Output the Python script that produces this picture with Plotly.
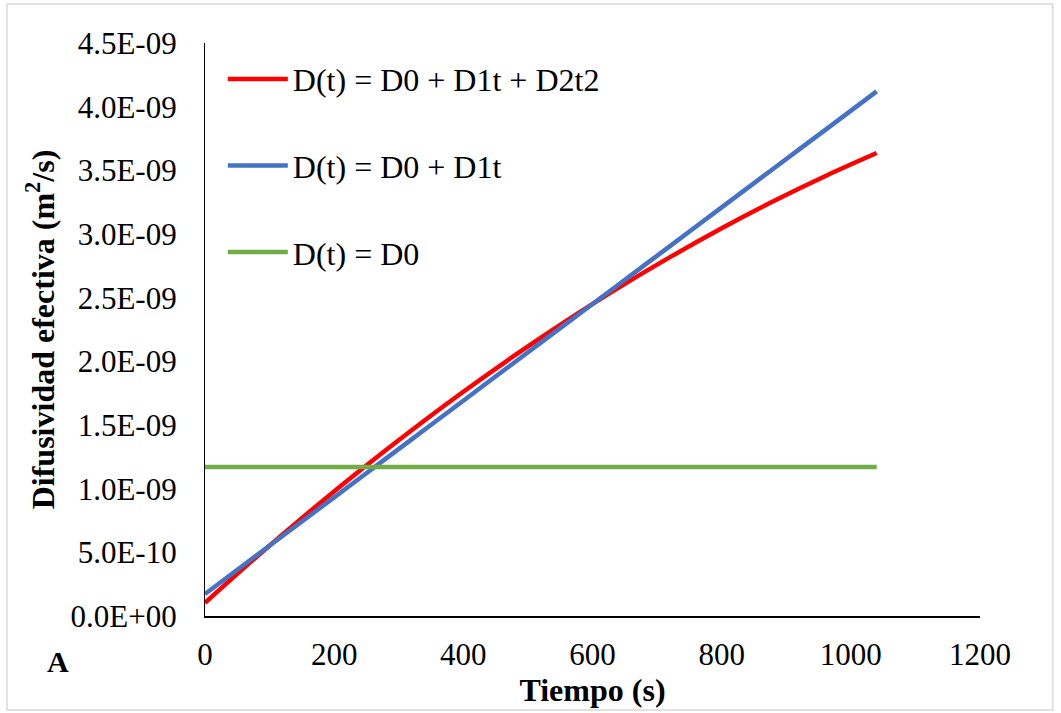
import plotly.graph_objects as go

# Data
time_s = [0, 80, 160, 240, 320, 400, 480, 560, 640, 720, 800, 880, 960, 1040]
d_quadratic = [1.03e-10, 4.65e-10, 8.11e-10, 1.143e-09, 1.459e-09, 1.761e-09, 2.048e-09,
               2.320e-09, 2.577e-09, 2.818e-09, 3.045e-09, 3.257e-09, 3.454e-09, 3.636e-09]
d_linear = [1.73e-10, 4.77e-10, 7.80e-10, 1.084e-09, 1.387e-09, 1.691e-09, 1.995e-09,
            2.298e-09, 2.602e-09, 2.905e-09, 3.209e-09, 3.513e-09, 3.816e-09, 4.120e-09]
d_const = [1.17e-09] * len(time_s)

series_names = ["D(t) = D0 + D1t + D2t2", "D(t) = D0 + D1t", "D(t) = D0"]
series_colors = ["#FF0000", "#4472C4", "#70AD47"]

y_tickvals = [0, 5e-10, 1e-09, 1.5e-09, 2e-09, 2.5e-09, 3e-09, 3.5e-09, 4e-09, 4.5e-09]
y_ticktext = ["0.0E+00", "5.0E-10", "1.0E-09", "1.5E-09", "2.0E-09", "2.5E-09",
              "3.0E-09", "3.5E-09", "4.0E-09", "4.5E-09"]
x_tickvals = [0, 200, 400, 600, 800, 1000, 1200]

FONT = "Liberation Serif"

fig = go.Figure()
for i, (ys, name, col) in enumerate(zip([d_quadratic, d_linear, d_const], series_names, series_colors)):
    fig.add_trace(go.Scatter(x=time_s, y=ys, mode="lines", name=name,
                             line=dict(color=col, width=4.5, shape="spline"),
                             legendgroup=f"g{i}"))

fig.update_layout(
    width=1061, height=713,
    margin=dict(l=205, r=81, t=43, b=97),
    paper_bgcolor="white", plot_bgcolor="white",
    font=dict(family=FONT, size=31, color="black"),
    showlegend=True,
    legend=dict(x=0.023, y=0.985, xanchor="left", yanchor="top",
                bgcolor="rgba(0,0,0,0)", font=dict(family=FONT, size=32),
                traceorder="grouped", tracegroupgap=42, itemwidth=60),
    xaxis=dict(range=[0, 1200], tickvals=x_tickvals, showgrid=False, zeroline=False,
               showline=True, linecolor="black", linewidth=1.5, ticks="",
               ticklabelstandoff=10,
               tickfont=dict(family=FONT, size=31),
               title=dict(text="<b>Tiempo (s)</b>", font=dict(family=FONT, size=32), standoff=4)),
    yaxis=dict(range=[0, 4.5e-09], tickvals=y_tickvals, ticktext=y_ticktext, showgrid=False,
               zeroline=False, showline=True, linecolor="black", linewidth=1.2, ticks="",
               ticklabelstandoff=21,
               tickfont=dict(family=FONT, size=31),
               title=dict(text="<b>Difusividad efectiva (m<sup>2</sup>/s)</b>",
                          font=dict(family=FONT, size=32), standoff=6)),
)

fig.add_annotation(text="<b>A</b>", xref="paper", yref="paper", x=-0.19, y=-0.08,
                   xanchor="center", yanchor="middle", showarrow=False,
                   font=dict(family=FONT, size=30, color="black"))

fig.add_shape(type="rect", xref="paper", yref="paper", x0=-0.2555, x1=1.094, y0=-0.164, y1=1.068,
              line=dict(color="#D9D9D9", width=1.5), fillcolor="rgba(0,0,0,0)", layer="below")

fig.write_html("out.html")
